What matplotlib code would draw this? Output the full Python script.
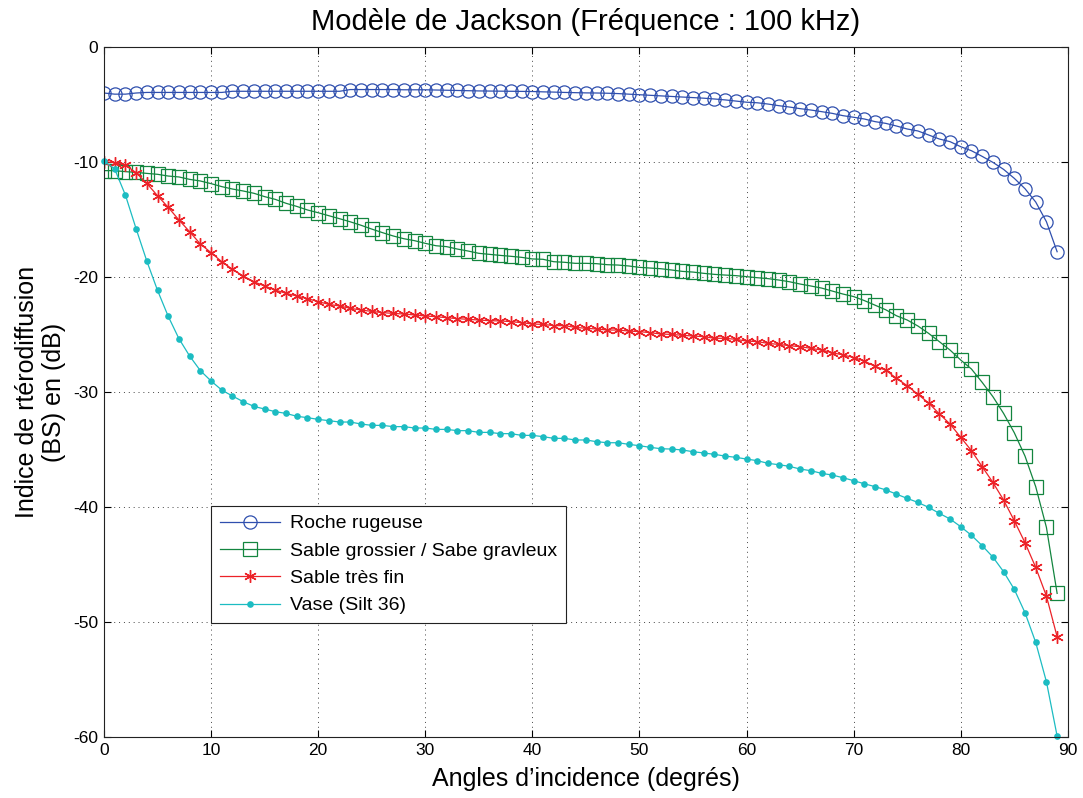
import numpy as np
import matplotlib
matplotlib.use("Agg")
import matplotlib.pyplot as plt

plt.rcParams['font.family'] = ['Liberation Sans', 'DejaVu Sans']
plt.rcParams['axes.unicode_minus'] = False

# angles d'incidence en degrés
angles = np.arange(0, 90)

roche = [-4.0, -4.1, -4.1, -4.0, -3.95, -3.95, -3.95, -3.95, -3.95, -3.95,
         -3.95, -3.95, -3.85, -3.85, -3.85, -3.85, -3.85, -3.85, -3.85, -3.85,
         -3.85, -3.85, -3.85, -3.7, -3.7, -3.7, -3.7, -3.7, -3.72, -3.72,
         -3.72, -3.74, -3.76, -3.78, -3.8, -3.82, -3.83, -3.84, -3.85, -3.86,
         -3.87, -3.9, -3.92, -3.95, -3.97, -3.99, -4.0, -4.02, -4.05, -4.1,
         -4.15, -4.2, -4.25, -4.3, -4.35, -4.4, -4.45, -4.52, -4.6, -4.7,
         -4.8, -4.85, -4.96, -5.1, -5.22, -5.36, -5.48, -5.62, -5.77, -5.97,
         -6.11, -6.26, -6.49, -6.64, -6.87, -7.13, -7.3, -7.65, -8.0, -8.23,
         -8.67, -9.02, -9.51, -10.03, -10.64, -11.42, -12.32, -13.48, -15.19, -17.8]

sable_grossier = [-10.75, -10.75, -10.84, -10.9, -10.99, -11.07, -11.22, -11.3, -11.51, -11.65,
                  -11.88, -12.14, -12.35, -12.52, -12.72, -13.01, -13.25, -13.59, -13.86, -14.17,
                  -14.41, -14.67, -14.93, -15.2, -15.5, -15.83, -16.14, -16.43, -16.67, -16.84,
                  -17.07, -17.28, -17.36, -17.57, -17.74, -17.94, -18.03, -18.12, -18.2, -18.29,
                  -18.43, -18.46, -18.67, -18.72, -18.81, -18.81, -18.84, -18.93, -18.96, -19.04,
                  -19.16, -19.22, -19.28, -19.39, -19.51, -19.57, -19.68, -19.77, -19.83, -19.88,
                  -19.97, -20.06, -20.14, -20.26, -20.41, -20.61, -20.78, -20.96, -21.22, -21.48,
                  -21.7, -22.05, -22.45, -22.85, -23.37, -23.74, -24.26, -24.9, -25.62, -26.35,
                  -27.22, -28.0, -29.16, -30.4, -31.86, -33.54, -35.57, -38.23, -41.77, -47.51]

sable_fin = [-9.97, -10.06, -10.26, -10.93, -11.86, -12.93, -13.94, -15.04, -16.06, -17.13,
             -17.88, -18.67, -19.33, -19.91, -20.41, -20.78, -21.13, -21.42, -21.65, -21.88,
             -22.14, -22.38, -22.52, -22.72, -22.87, -22.99, -23.1, -23.16, -23.22, -23.3,
             -23.39, -23.45, -23.54, -23.62, -23.68, -23.74, -23.8, -23.82, -23.88, -23.97,
             -24.09, -24.12, -24.23, -24.23, -24.38, -24.46, -24.52, -24.61, -24.61, -24.7,
             -24.75, -24.84, -24.96, -24.99, -25.07, -25.13, -25.19, -25.33, -25.33, -25.42,
             -25.57, -25.62, -25.77, -25.86, -25.97, -26.06, -26.2, -26.35, -26.58, -26.78,
             -27.0, -27.3, -27.77, -28.1, -28.81, -29.45, -30.2, -30.95, -31.9, -32.78,
             -33.94, -35.1, -36.49, -37.86, -39.39, -41.19, -43.1, -45.25, -47.74, -51.28]

vase = [-9.91, -10.61, -12.87, -15.8, -18.61, -21.16, -23.42, -25.36, -26.87, -28.14,
        -29.04, -29.83, -30.35, -30.84, -31.25, -31.48, -31.71, -31.86, -32.11, -32.23,
        -32.38, -32.49, -32.61, -32.61, -32.78, -32.9, -32.9, -33.01, -33.01, -33.13,
        -33.13, -33.25, -33.25, -33.36, -33.36, -33.51, -33.51, -33.62, -33.62, -33.77,
        -33.77, -33.88, -34.03, -34.03, -34.17, -34.17, -34.32, -34.41, -34.41, -34.55,
        -34.67, -34.81, -34.93, -34.96, -35.04, -35.19, -35.3, -35.42, -35.57, -35.68,
        -35.83, -35.97, -36.2, -36.32, -36.46, -36.7, -36.84, -37.07, -37.22, -37.45,
        -37.71, -37.98, -38.23, -38.51, -38.88, -39.25, -39.6, -40.03, -40.55, -41.04,
        -41.71, -42.46, -43.36, -44.35, -45.62, -47.16, -49.19, -51.77, -55.19, -59.91]

labels = ["Roche rugeuse", "Sable grossier / Sabe gravleux", "Sable très fin", "Vase (Silt 36)"]

fig = plt.figure(figsize=(10.83, 7.98), dpi=100)
ax = fig.add_axes([0.096, 0.0764, 0.89, 0.8647])

ax.plot(angles, roche, color='#2f4fae', lw=0.9, marker='o', ms=9.5,
        mfc='none', mew=0.9, label=labels[0])
ax.plot(angles, sable_grossier, color='#13853f', lw=0.9, marker='s', ms=10,
        mfc='none', mew=0.9, label=labels[1])
ax.plot(angles, sable_fin, color='#ec2228', lw=0.9, marker=(6, 2, 0), ms=9,
        mew=1.0, label=labels[2])
ax.plot(angles, vase, color='#1cbcc2', lw=0.9, marker='o', ms=4.8,
        mew=0, label=labels[3], clip_on=False)

ax.set_xlim(0, 90)
ax.set_ylim(-60, 0)
ax.set_xticks(range(0, 91, 10))
ax.set_yticks(range(-60, 1, 10))
ax.tick_params(direction='in', length=5, width=0.8, labelsize=12.5,
               top=True, right=True, pad=4)
for s in ax.spines.values():
    s.set_linewidth(0.8)
    s.set_color('#222222')
ax.grid(True, color='#444444', linestyle=(0, (1, 4)), linewidth=0.7)

ax.set_title("Modèle de Jackson (Fréquence : 100 kHz)", fontsize=21, pad=12)
ax.set_xlabel("Angles d’incidence (degrés)", fontsize=18, labelpad=7)
ax.set_ylabel("Indice de rtérodiffusion\n(BS) en (dB)", fontsize=18, labelpad=5)

leg = ax.legend(loc='lower left', bbox_to_anchor=(0.111, 0.165), borderaxespad=0,
                fontsize=14, fancybox=False, framealpha=1, edgecolor='#222222',
                handlelength=3.1, handletextpad=0.5, labelspacing=0.5, borderpad=0.45)
leg.get_frame().set_linewidth(0.8)

fig.savefig("out.png", dpi=100)
